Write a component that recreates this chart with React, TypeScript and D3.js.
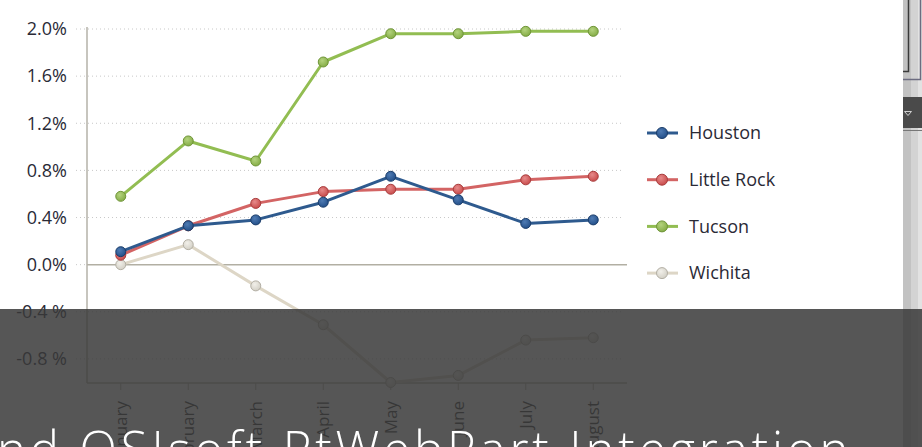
import React from "react";
import * as d3 from "d3";

const months = ["January", "February", "March", "April", "May", "June", "July", "August"];
const houston = [0.11, 0.33, 0.38, 0.53, 0.75, 0.55, 0.35, 0.38];
const littleRock = [0.08, 0.33, 0.52, 0.62, 0.64, 0.64, 0.72, 0.75];
const tucson = [0.58, 1.05, 0.88, 1.72, 1.96, 1.96, 1.98, 1.98];
const wichita = [0.0, 0.17, -0.18, -0.51, -1.0, -0.94, -0.64, -0.62];
const tickValues = [-0.8, -0.4, 0, 0.4, 0.8, 1.2, 1.6, 2.0];
const tickLabels = ["-0.8 %", "-0.4 %", "0.0%", "0.4%", "0.8%", "1.2%", "1.6%", "2.0%"];
const title = "nd OSIsoft PtWebPart Integration";

const series = [
  { name: "Wichita", values: wichita, line: "#ddd6c6", dot: "#d3d0c6", edge: "#b3afa4", hi: "#f2f0ea" },
  { name: "Tucson", values: tucson, line: "#92bd52", dot: "#85ad47", edge: "#6f9538", hi: "#b4d37e" },
  { name: "Little Rock", values: littleRock, line: "#d36464", dot: "#c94c4c", edge: "#a83c3c", hi: "#e68a8a" },
  { name: "Houston", values: houston, line: "#2e5a8e", dot: "#24508a", edge: "#1b3d6a", hi: "#4f7bb3" },
];
const legendOrder = ["Houston", "Little Rock", "Tucson", "Wichita"];

const font = "'Open Sans', 'Segoe UI', sans-serif";

const x = d3.scaleBand<string>().domain(months).range([87, 627]).padding(0);
const y = d3.scaleLinear().domain([-1.0, 2.0]).range([382.5, 29]);
const cx = (m: string) => (x(m) as number) + x.bandwidth() / 2;

const line = d3
  .line<number>()
  .x((_, i) => cx(months[i]))
  .y((d) => y(d));

export default function App() {
  return (
    <svg width={922} height={447} style={{ position: "absolute", left: 0, top: 0, background: "#fff" }}>
      <defs>
        {series.map((s) => (
          <radialGradient key={s.name} id={"g" + s.name.replace(" ", "")} cx="40%" cy="35%" r="65%">
            <stop offset="0%" stopColor={s.hi} />
            <stop offset="100%" stopColor={s.dot} />
          </radialGradient>
        ))}
      </defs>

      {/* grid */}
      {tickValues.map((t, i) => (
        <g key={t}>
          {t !== 0 ? (
            <line x1={76} x2={623} y1={y(t)} y2={y(t)} stroke="#c8c8c8" strokeDasharray="1,3" />
          ) : (
            <>
              <line x1={76} x2={87} y1={y(t)} y2={y(t)} stroke="#c8c8c8" strokeDasharray="1,3" />
              <line x1={87} x2={627} y1={y(t)} y2={y(t)} stroke="#b2afa3" strokeWidth={1.5} />
            </>
          )}
          <text x={67} y={y(t)} dy="0.35em" textAnchor="end" fontFamily={font} fontSize={18} fill="#2a2a36">
            {tickLabels[i]}
          </text>
        </g>
      ))}

      {/* axes */}
      <line x1={87} x2={87} y1={27} y2={383} stroke="#b5b2a8" strokeWidth={1.5} />
      <line x1={87} x2={627} y1={383} y2={383} stroke="#b5b2a8" strokeWidth={1.5} />
      {months.map((m) => (
        <g key={m}>
          <line x1={cx(m)} x2={cx(m)} y1={383} y2={390} stroke="#b5b2a8" />
          <text
            transform={`translate(${cx(m) + 6},401) rotate(-90)`}
            textAnchor="end"
            fontFamily={font}
            fontSize={17}
            fill="#333"
          >
            {m}
          </text>
        </g>
      ))}

      {/* series */}
      {series.map((s) => (
        <g key={s.name}>
          <path d={line(s.values) as string} fill="none" stroke={s.line} strokeWidth={3} strokeLinejoin="round" />
          {s.values.map((v, i) => (
            <circle
              key={i}
              cx={cx(months[i])}
              cy={y(v)}
              r={5}
              fill={`url(#g${s.name.replace(" ", "")})`}
              stroke={s.edge}
              strokeWidth={1}
            />
          ))}
        </g>
      ))}

      {/* legend */}
      {legendOrder.map((n, i) => {
        const s = series.find((d) => d.name === n)!;
        const ly = 133 + i * 46.7;
        return (
          <g key={n}>
            <line x1={647} x2={678} y1={ly} y2={ly} stroke={s.line} strokeWidth={3} />
            <circle cx={662} cy={ly} r={5.5} fill={`url(#g${n.replace(" ", "")})`} stroke={s.edge} />
            <text x={689} y={ly} dy="0.35em" fontFamily={font} fontSize={18} fill="#2a2a36">
              {n}
            </text>
          </g>
        );
      })}

      {/* scrollbar */}
      <rect x={903} y={0} width={19} height={447} fill="#c2c2c2" />
      <rect x={911} y={0} width={7} height={447} fill="#d3d3d3" />
      <rect x={918} y={0} width={4} height={447} fill="#e2e2e2" />
      <path d="M908.5,0V71.5H903" fill="none" stroke="#3a3a3a" strokeWidth={1.5} />
      <path d="M920.5,0V79.5H903" fill="none" stroke="#6c6c80" strokeWidth={1.5} />
      <rect x={903} y={97} width={19} height={31} fill="#4a4a4a" />
      <path d="M904.5,111.5h7l-3.5,4z" fill="none" stroke="#d0d0d0" />
      <line x1={903} x2={922} y1={130.5} y2={130.5} stroke="#777" />

      {/* overlay */}
      <rect x={0} y={309} width={922} height={138} fill="#383838" opacity={0.85} />
      <text
        x={-3}
        y={467}
        fontFamily={font}
        fontWeight={300}
        fontSize={49}
        letterSpacing={3.9}
        fill="#fff"
      >
        {title}
      </text>
    </svg>
  );
}
